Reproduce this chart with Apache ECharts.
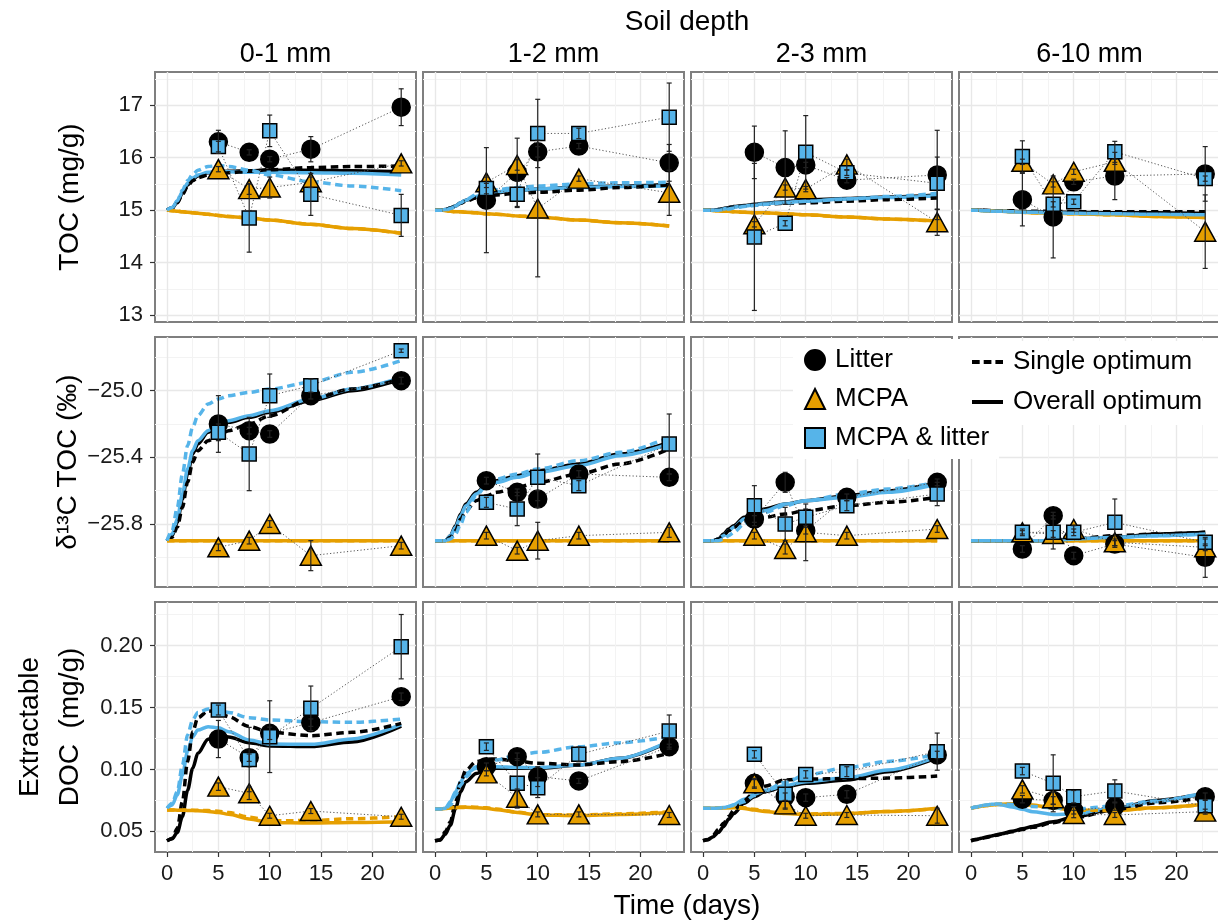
<!DOCTYPE html>
<html><head><meta charset="utf-8">
<script src="https://cdn.jsdelivr.net/npm/echarts@6/dist/echarts.min.js"></script>
<style>html,body{margin:0;padding:0;background:#fff}#c{width:1218px;height:923px}</style>
</head><body><div id="c"></div>
<script>
// ---------------- DATA ----------------
const depths = ['0-1 mm', '1-2 mm', '2-3 mm', '6-10 mm'];
const treatments = ['Litter', 'MCPA', 'MCPA & litter'];
const lineLegend = ['Single optimum', 'Overall optimum'];
const sampleDays = [5, 8, 10, 14, 22.8];
const modelDays = [0, 0.5, 1, 1.5, 2, 2.5, 3, 4, 5, 6, 8, 10, 14, 18, 22.8];
const xTicks = [0, 5, 10, 15, 20];
const xMinor = [2.5, 7.5, 12.5, 17.5, 22.5];
const tocTicks = [13, 14, 15, 16, 17];
const tocMinor = [13.5, 14.5, 15.5, 16.5, 17.5];
const d13cTicks = [-25.8, -25.4, -25.0];
const d13cMinor = [-26.0, -25.6, -25.2, -24.8];
const docTicks = [0.05, 0.10, 0.15, 0.20];
const docMinor = [0.075, 0.125, 0.175, 0.225];

// measured means and error half-widths: [depth][treatment][sample day]
const tocMean = [
  [[16.30, 16.10, 15.97, 16.16, 16.96], [15.78, 15.40, 15.43, 15.53, 15.89], [16.21, 14.85, 16.51, 15.30, 14.90]],
  [[15.19, 15.72, 16.11, 16.22, 15.90], [15.53, 15.86, 15.03, 15.60, 15.33], [15.41, 15.30, 16.46, 16.46, 16.77]],
  [[16.10, 15.81, 15.86, 15.57, 15.67], [14.73, 15.43, 15.40, 15.87, 14.77], [14.49, 14.75, 16.10, 15.71, 15.51]],
  [[15.20, 14.87, 15.54, 15.65, 15.69], [15.92, 15.49, 15.73, 15.92, 14.59], [16.02, 15.11, 15.16, 16.11, 15.60]]
];
const tocErr = [
  [[0.22, 0.05, 0.05, 0.24, 0.35], [0.05, 0.10, 0.20, 0.10, 0.05], [0.10, 0.65, 0.30, 0.40, 0.40]],
  [[1.00, 0.65, 0.10, 0.05, 0.35], [0.10, 0.10, 1.30, 0.05, 0.43], [0.10, 0.25, 0.65, 0.10, 0.65]],
  [[0.50, 0.70, 0.05, 0.05, 0.85], [0.05, 0.05, 0.05, 0.10, 0.25], [1.40, 0.05, 0.70, 0.05, 0.50]],
  [[0.50, 0.78, 0.05, 0.45, 0.52], [0.05, 0.05, 0.05, 0.05, 0.70], [0.30, 0.05, 0.05, 0.20, 0.05]]
];
const d13cMean = [
  [[-25.20, -25.24, -25.26, -25.03, -24.94], [-25.94, -25.90, -25.80, -25.99, -25.93], [-25.25, -25.38, -25.03, -24.97, -24.76]],
  [[-25.54, -25.61, -25.65, -25.50, -25.52], [-25.87, -25.96, -25.90, -25.87, -25.85], [-25.67, -25.71, -25.52, -25.57, -25.32]],
  [[-25.77, -25.55, -25.84, -25.64, -25.55], [-25.87, -25.95, -25.85, -25.87, -25.83], [-25.69, -25.80, -25.76, -25.69, -25.62]],
  [[-25.95, -25.75, -25.99, -25.92, -26.00], [-25.85, -25.86, -25.83, -25.91, -25.94], [-25.85, -25.85, -25.85, -25.79, -25.91]]
];
const d13cErr = [
  [[0.17, 0.02, 0.02, 0.02, 0.02], [0.02, 0.02, 0.02, 0.09, 0.02], [0.05, 0.22, 0.13, 0.04, 0.01]],
  [[0.02, 0.02, 0.05, 0.02, 0.02], [0.02, 0.02, 0.11, 0.02, 0.03], [0.03, 0.10, 0.14, 0.03, 0.18]],
  [[0.02, 0.06, 0.02, 0.02, 0.02], [0.02, 0.03, 0.17, 0.02, 0.02], [0.12, 0.10, 0.05, 0.03, 0.07]],
  [[0.02, 0.02, 0.02, 0.02, 0.12], [0.02, 0.02, 0.02, 0.02, 0.02], [0.01, 0.10, 0.02, 0.14, 0.02]]
];
const docMean = [
  [[0.1246, 0.1095, 0.1292, 0.1378, 0.1588], [0.0861, 0.0807, 0.0626, 0.0664, 0.0618], [0.1480, 0.1080, 0.1265, 0.1494, 0.1992]],
  [[0.1022, 0.1103, 0.0942, 0.0907, 0.1184], [0.0968, 0.0772, 0.0637, 0.0637, 0.0632], [0.1184, 0.0888, 0.0853, 0.1122, 0.1310]],
  [[0.0888, 0.0780, 0.0772, 0.0799, 0.1117], [0.0888, 0.0718, 0.0626, 0.0632, 0.0626], [0.1122, 0.0799, 0.0960, 0.0982, 0.1144]],
  [[0.0760, 0.0750, 0.0670, 0.0700, 0.0780], [0.0839, 0.0767, 0.0640, 0.0632, 0.0659], [0.0987, 0.0888, 0.0780, 0.0826, 0.0707]]
];
const docErr = [
  [[0.015, 0.003, 0.005, 0.003, 0.003], [0.003, 0.005, 0.002, 0.002, 0.002], [0.004, 0.026, 0.029, 0.018, 0.026]],
  [[0.003, 0.003, 0.008, 0.002, 0.002], [0.002, 0.007, 0.002, 0.002, 0.002], [0.003, 0.020, 0.008, 0.006, 0.013]],
  [[0.003, 0.003, 0.003, 0.003, 0.003], [0.004, 0.003, 0.002, 0.002, 0.006], [0.003, 0.012, 0.003, 0.004, 0.015]],
  [[0.003, 0.003, 0.003, 0.003, 0.003], [0.003, 0.005, 0.003, 0.002, 0.002], [0.003, 0.023, 0.005, 0.009, 0.005]]
];

// model curves over modelDays: [depth][treatment]
const tocSingle = [
  [[15.00, 15.04, 15.14, 15.30, 15.45, 15.56, 15.62, 15.67, 15.69, 15.71, 15.74, 15.77, 15.81, 15.83, 15.84],
   [15.00, 14.99, 14.98, 14.97, 14.96, 14.95, 14.94, 14.92, 14.90, 14.88, 14.85, 14.81, 14.73, 14.65, 14.56],
   [15.00, 15.05, 15.18, 15.38, 15.56, 15.68, 15.76, 15.83, 15.85, 15.83, 15.76, 15.67, 15.54, 15.46, 15.37]],
  [[15.00, 15.00, 15.01, 15.04, 15.08, 15.13, 15.17, 15.23, 15.27, 15.29, 15.32, 15.34, 15.38, 15.43, 15.48],
   [15.00, 15.00, 14.99, 14.98, 14.97, 14.97, 14.96, 14.95, 14.93, 14.92, 14.89, 14.87, 14.81, 14.76, 14.70],
   [15.00, 15.00, 15.00, 15.03, 15.07, 15.14, 15.20, 15.29, 15.35, 15.39, 15.43, 15.46, 15.50, 15.52, 15.53]],
  [[15.00, 15.00, 15.00, 15.01, 15.02, 15.04, 15.06, 15.08, 15.10, 15.11, 15.13, 15.14, 15.17, 15.20, 15.23],
   [15.00, 15.00, 14.99, 14.99, 14.98, 14.98, 14.97, 14.96, 14.95, 14.95, 14.93, 14.91, 14.87, 14.83, 14.79],
   [15.00, 15.00, 15.00, 15.00, 15.01, 15.02, 15.04, 15.07, 15.09, 15.11, 15.14, 15.17, 15.21, 15.26, 15.32]],
  [[15.00, 15.00, 15.00, 15.00, 14.99, 14.99, 14.99, 14.99, 14.98, 14.98, 14.98, 14.97, 14.97, 14.97, 14.97],
   [15.00, 15.00, 14.99, 14.99, 14.99, 14.98, 14.98, 14.97, 14.96, 14.95, 14.94, 14.93, 14.91, 14.88, 14.86],
   [15.00, 15.00, 14.99, 14.99, 14.99, 14.98, 14.98, 14.97, 14.96, 14.96, 14.95, 14.94, 14.93, 14.92, 14.91]]
];
const tocOverall = [
  [[15.00, 15.04, 15.15, 15.32, 15.48, 15.59, 15.65, 15.71, 15.73, 15.74, 15.75, 15.76, 15.76, 15.75, 15.73],
   [15.00, 14.99, 14.98, 14.97, 14.96, 14.95, 14.94, 14.92, 14.90, 14.88, 14.85, 14.81, 14.73, 14.65, 14.56],
   [15.00, 15.05, 15.17, 15.35, 15.51, 15.61, 15.67, 15.72, 15.73, 15.73, 15.72, 15.72, 15.71, 15.70, 15.67]],
  [[15.00, 15.00, 15.01, 15.04, 15.08, 15.14, 15.19, 15.25, 15.30, 15.33, 15.38, 15.40, 15.44, 15.46, 15.49],
   [15.00, 15.00, 14.99, 14.98, 14.97, 14.97, 14.96, 14.95, 14.93, 14.92, 14.89, 14.87, 14.81, 14.76, 14.70],
   [15.00, 15.00, 15.01, 15.04, 15.08, 15.14, 15.19, 15.26, 15.32, 15.35, 15.38, 15.40, 15.43, 15.45, 15.46]],
  [[15.00, 15.00, 15.00, 15.01, 15.03, 15.05, 15.07, 15.09, 15.11, 15.13, 15.16, 15.19, 15.22, 15.25, 15.29],
   [15.00, 15.00, 14.99, 14.99, 14.98, 14.98, 14.97, 14.96, 14.95, 14.95, 14.93, 14.91, 14.87, 14.83, 14.79],
   [15.00, 15.00, 15.00, 15.01, 15.02, 15.04, 15.06, 15.08, 15.10, 15.12, 15.15, 15.17, 15.21, 15.24, 15.27]],
  [[15.00, 15.00, 15.00, 14.99, 14.99, 14.99, 14.98, 14.98, 14.97, 14.97, 14.96, 14.96, 14.95, 14.95, 14.94],
   [15.00, 15.00, 14.99, 14.99, 14.99, 14.98, 14.98, 14.97, 14.96, 14.95, 14.94, 14.93, 14.91, 14.88, 14.86],
   [15.00, 15.00, 14.99, 14.99, 14.98, 14.98, 14.98, 14.97, 14.96, 14.96, 14.95, 14.94, 14.93, 14.92, 14.91]]
];
const d13cSingle = [
  [[-25.90, -25.88, -25.82, -25.70, -25.55, -25.43, -25.36, -25.30, -25.27, -25.24, -25.20, -25.15, -25.05, -24.99, -24.93],
   [-25.90, -25.90, -25.90, -25.90, -25.90, -25.90, -25.90, -25.90, -25.90, -25.90, -25.90, -25.90, -25.90, -25.90, -25.90],
   [-25.90, -25.84, -25.70, -25.50, -25.33, -25.22, -25.15, -25.08, -25.05, -25.03, -25.01, -24.99, -24.95, -24.89, -24.82]],
  [[-25.90, -25.90, -25.90, -25.88, -25.84, -25.77, -25.72, -25.66, -25.63, -25.61, -25.58, -25.55, -25.50, -25.44, -25.35],
   [-25.90, -25.90, -25.90, -25.90, -25.90, -25.90, -25.90, -25.90, -25.90, -25.90, -25.90, -25.90, -25.90, -25.90, -25.90],
   [-25.90, -25.90, -25.90, -25.89, -25.86, -25.80, -25.73, -25.63, -25.57, -25.53, -25.50, -25.47, -25.42, -25.37, -25.28]],
  [[-25.90, -25.90, -25.90, -25.89, -25.87, -25.84, -25.82, -25.78, -25.77, -25.76, -25.74, -25.72, -25.69, -25.67, -25.64],
   [-25.90, -25.90, -25.90, -25.90, -25.90, -25.90, -25.90, -25.90, -25.90, -25.90, -25.90, -25.90, -25.90, -25.90, -25.90],
   [-25.90, -25.90, -25.90, -25.90, -25.89, -25.87, -25.85, -25.80, -25.76, -25.73, -25.69, -25.66, -25.62, -25.59, -25.55]],
  [[-25.90, -25.90, -25.90, -25.90, -25.90, -25.90, -25.90, -25.90, -25.90, -25.90, -25.90, -25.89, -25.87, -25.86, -25.85],
   [-25.90, -25.90, -25.90, -25.90, -25.90, -25.90, -25.90, -25.90, -25.90, -25.90, -25.90, -25.90, -25.90, -25.90, -25.90],
   [-25.90, -25.90, -25.90, -25.90, -25.90, -25.90, -25.90, -25.90, -25.90, -25.90, -25.90, -25.89, -25.88, -25.87, -25.86]]
];
const d13cOverall = [
  [[-25.90, -25.87, -25.79, -25.65, -25.50, -25.38, -25.32, -25.25, -25.21, -25.19, -25.16, -25.13, -25.06, -25.00, -24.93],
   [-25.90, -25.90, -25.90, -25.90, -25.90, -25.90, -25.90, -25.90, -25.90, -25.90, -25.90, -25.90, -25.90, -25.90, -25.90],
   [-25.90, -25.86, -25.77, -25.62, -25.47, -25.36, -25.30, -25.24, -25.20, -25.18, -25.15, -25.12, -25.05, -24.99, -24.92]],
  [[-25.90, -25.90, -25.90, -25.87, -25.81, -25.74, -25.68, -25.61, -25.57, -25.54, -25.51, -25.48, -25.44, -25.38, -25.31],
   [-25.90, -25.90, -25.90, -25.90, -25.90, -25.90, -25.90, -25.90, -25.90, -25.90, -25.90, -25.90, -25.90, -25.90, -25.90],
   [-25.90, -25.90, -25.90, -25.87, -25.82, -25.75, -25.69, -25.62, -25.57, -25.55, -25.52, -25.49, -25.45, -25.39, -25.32]],
  [[-25.90, -25.90, -25.90, -25.89, -25.86, -25.83, -25.81, -25.76, -25.73, -25.71, -25.68, -25.66, -25.63, -25.60, -25.55],
   [-25.90, -25.90, -25.90, -25.90, -25.90, -25.90, -25.90, -25.90, -25.90, -25.90, -25.90, -25.90, -25.90, -25.90, -25.90],
   [-25.90, -25.90, -25.90, -25.89, -25.87, -25.84, -25.82, -25.77, -25.74, -25.72, -25.68, -25.66, -25.64, -25.61, -25.56]],
  [[-25.90, -25.90, -25.90, -25.90, -25.90, -25.90, -25.90, -25.90, -25.90, -25.90, -25.90, -25.89, -25.88, -25.86, -25.85],
   [-25.90, -25.90, -25.90, -25.90, -25.90, -25.90, -25.90, -25.90, -25.90, -25.90, -25.90, -25.90, -25.90, -25.90, -25.90],
   [-25.90, -25.90, -25.90, -25.90, -25.90, -25.90, -25.90, -25.90, -25.90, -25.90, -25.90, -25.89, -25.88, -25.87, -25.86]]
];
const docSingle = [
  [[0.0424, 0.0443, 0.0524, 0.0740, 0.1063, 0.1305, 0.1418, 0.1472, 0.1467, 0.1426, 0.1346, 0.1300, 0.1273, 0.1300, 0.1372],
   [0.0672, 0.0672, 0.0672, 0.0672, 0.0671, 0.0671, 0.0670, 0.0668, 0.0663, 0.0652, 0.0615, 0.0585, 0.0587, 0.0602, 0.0618],
   [0.0686, 0.0726, 0.0820, 0.1036, 0.1278, 0.1400, 0.1461, 0.1488, 0.1480, 0.1461, 0.1418, 0.1400, 0.1386, 0.1381, 0.1407]],
  [[0.0424, 0.0430, 0.0497, 0.0578, 0.0740, 0.0901, 0.0995, 0.1063, 0.1082, 0.1085, 0.1068, 0.1050, 0.1036, 0.1063, 0.1130],
   [0.0680, 0.0680, 0.0685, 0.0690, 0.0694, 0.0696, 0.0697, 0.0695, 0.0690, 0.0680, 0.0655, 0.0635, 0.0632, 0.0641, 0.0658],
   [0.0681, 0.0681, 0.0686, 0.0713, 0.0793, 0.0874, 0.0941, 0.1022, 0.1050, 0.1076, 0.1117, 0.1138, 0.1184, 0.1216, 0.1265]],
  [[0.0424, 0.0432, 0.0470, 0.0515, 0.0565, 0.0620, 0.0670, 0.0750, 0.0815, 0.0865, 0.0915, 0.0923, 0.0925, 0.0930, 0.0947],
   [0.0686, 0.0686, 0.0687, 0.0689, 0.0691, 0.0693, 0.0694, 0.0690, 0.0678, 0.0665, 0.0648, 0.0640, 0.0645, 0.0660, 0.0683],
   [0.0686, 0.0686, 0.0686, 0.0688, 0.0692, 0.0700, 0.0710, 0.0740, 0.0790, 0.0830, 0.0895, 0.0955, 0.1015, 0.1065, 0.1122]],
  [[0.0424, 0.0433, 0.0442, 0.0451, 0.0460, 0.0469, 0.0478, 0.0496, 0.0514, 0.0533, 0.0570, 0.0608, 0.0675, 0.0730, 0.0775],
   [0.0686, 0.0695, 0.0703, 0.0709, 0.0713, 0.0717, 0.0719, 0.0721, 0.0718, 0.0710, 0.0690, 0.0672, 0.0668, 0.0690, 0.0718],
   [0.0686, 0.0697, 0.0707, 0.0713, 0.0718, 0.0720, 0.0720, 0.0716, 0.0705, 0.0700, 0.0690, 0.0680, 0.0705, 0.0745, 0.0815]]
];
const docOverall = [
  [[0.0424, 0.0440, 0.0490, 0.0620, 0.0830, 0.1010, 0.1130, 0.1245, 0.1270, 0.1262, 0.1215, 0.1190, 0.1185, 0.1222, 0.1350],
   [0.0672, 0.0672, 0.0671, 0.0670, 0.0669, 0.0668, 0.0666, 0.0661, 0.0653, 0.0638, 0.0600, 0.0572, 0.0568, 0.0572, 0.0578],
   [0.0686, 0.0713, 0.0793, 0.0955, 0.1144, 0.1265, 0.1319, 0.1346, 0.1337, 0.1305, 0.1238, 0.1205, 0.1203, 0.1246, 0.1364]],
  [[0.0424, 0.0430, 0.0476, 0.0551, 0.0686, 0.0820, 0.0901, 0.0968, 0.0995, 0.1009, 0.1009, 0.1009, 0.1036, 0.1090, 0.1224],
   [0.0680, 0.0680, 0.0684, 0.0688, 0.0691, 0.0693, 0.0694, 0.0691, 0.0686, 0.0675, 0.0653, 0.0632, 0.0626, 0.0637, 0.0653],
   [0.0681, 0.0681, 0.0686, 0.0740, 0.0820, 0.0901, 0.0968, 0.1009, 0.1022, 0.1022, 0.1017, 0.1014, 0.1036, 0.1090, 0.1230]],
  [[0.0424, 0.0435, 0.0457, 0.0492, 0.0538, 0.0599, 0.0645, 0.0726, 0.0780, 0.0820, 0.0861, 0.0888, 0.0915, 0.0982, 0.1095],
   [0.0686, 0.0686, 0.0687, 0.0688, 0.0689, 0.0690, 0.0690, 0.0685, 0.0672, 0.0660, 0.0645, 0.0637, 0.0643, 0.0660, 0.0686],
   [0.0686, 0.0686, 0.0686, 0.0688, 0.0692, 0.0700, 0.0715, 0.0760, 0.0800, 0.0830, 0.0870, 0.0901, 0.0933, 0.0995, 0.1103]],
  [[0.0424, 0.0434, 0.0444, 0.0454, 0.0463, 0.0472, 0.0481, 0.0500, 0.0520, 0.0540, 0.0578, 0.0615, 0.0685, 0.0750, 0.0807],
   [0.0686, 0.0695, 0.0703, 0.0709, 0.0713, 0.0717, 0.0719, 0.0721, 0.0718, 0.0710, 0.0690, 0.0672, 0.0668, 0.0690, 0.0718],
   [0.0686, 0.0697, 0.0707, 0.0713, 0.0718, 0.0718, 0.0713, 0.0696, 0.0678, 0.0659, 0.0637, 0.0640, 0.0686, 0.0740, 0.0815]]
];

// ---------------- LAYOUT / STYLE ----------------
const FF = "'Liberation Sans', Arial, Helvetica, sans-serif";
const colLeft = [155, 423, 691, 959];
const rowTop = [72, 337, 602];
const PW = 261, PH = 250;
const X_MIN = -1.17, X_MAX = 24.24;
const colors = ['#000000', '#E69F00', '#56B4E9'];
const symbols = ['circle', 'triangle', 'rect'];
const symSizes = [18, [21, 19], 14];
const DASH = [7.5, 4.5];

const rows = [
  { mean: tocMean, err: tocErr, single: tocSingle, overall: tocOverall, min: 12.87, max: 17.63,
    ticks: tocTicks, minor: tocMinor, fmt: v => v.toFixed(0) },
  { mean: d13cMean, err: d13cErr, single: d13cSingle, overall: d13cOverall, min: -26.178, max: -24.678,
    ticks: d13cTicks, minor: d13cMinor, fmt: v => v.toFixed(1).replace('-', '\u2212') },
  { mean: docMean, err: docErr, single: docSingle, overall: docOverall, min: 0.0333, max: 0.2353,
    ticks: docTicks, minor: docMinor, fmt: v => v.toFixed(2) }
];

const grid = [], xMain = [], yMain = [], xMin2 = [], yMin2 = [], series = [];
const tickStyle = { color: '#333333', width: 1.2 };
const majorGrid = { color: '#e8e8e8', width: 1.4 };
const minorGrid = { color: '#f3f3f3', width: 1 };

for (let r = 0; r < 3; r++) {
  for (let c = 0; c < 4; c++) {
    const g = r * 4 + c;
    const R = rows[r];
    grid.push({ left: colLeft[c], top: rowTop[r], width: PW, height: PH, show: true,
      backgroundColor: '#ffffff', borderColor: '#7f7f7f', borderWidth: 2, containLabel: false, outerBoundsMode: 'none' });
    xMain.push({ type: 'value', gridIndex: g, min: X_MIN, max: X_MAX, position: 'bottom',
      axisLine: { show: false, onZero: false },
      axisTick: { show: r === 2, customValues: xTicks, length: 5, lineStyle: tickStyle },
      axisLabel: { show: r === 2, customValues: xTicks, margin: 11, fontSize: 22, color: '#1a1a1a', fontFamily: FF },
      splitLine: { show: true, lineStyle: majorGrid } });
    xMin2.push({ type: 'value', gridIndex: g, min: X_MIN, max: X_MAX, position: 'top',
      axisLine: { show: false, onZero: false },
      axisTick: { show: false, customValues: xMinor },
      axisLabel: { show: false, customValues: xMinor },
      splitLine: { show: true, lineStyle: minorGrid } });
    yMain.push({ type: 'value', gridIndex: g, min: R.min, max: R.max, position: 'left',
      axisLine: { show: false, onZero: false },
      axisTick: { show: c === 0, customValues: R.ticks, length: 5, lineStyle: tickStyle },
      axisLabel: { show: c === 0, customValues: R.ticks, formatter: R.fmt, margin: 12, fontSize: 22, color: '#1a1a1a', fontFamily: FF },
      splitLine: { show: true, lineStyle: majorGrid } });
    yMin2.push({ type: 'value', gridIndex: g, min: R.min, max: R.max, position: 'right',
      axisLine: { show: false, onZero: false },
      axisTick: { show: false, customValues: R.minor },
      axisLabel: { show: false, customValues: R.minor },
      splitLine: { show: true, lineStyle: minorGrid } });

    const base = { xAxisIndex: g, yAxisIndex: g, silent: true, animation: false };
    // model curves: overall (solid) then single (dashed)
    [['overall', R.overall, 'solid'], ['single', R.single, DASH]].forEach(([nm, arr, ty]) => {
      for (let t = 0; t < 3; t++) {
        series.push(Object.assign({}, base, {
          type: 'line', name: nm + '-' + treatments[t], z: 2,
          data: modelDays.map((d, i) => [d, arr[c][t][i]]),
          symbol: 'none', showSymbol: false, smooth: 0.3, smoothMonotone: 'x',
          lineStyle: { color: colors[t], width: 3.5, type: ty, cap: 'butt' }
        }));
      }
    });
    // dotted connectors
    for (let t = 0; t < 3; t++) {
      series.push(Object.assign({}, base, {
        type: 'line', name: 'conn', z: 3,
        data: sampleDays.map((d, i) => [d, R.mean[c][t][i]]),
        symbol: 'none', showSymbol: false,
        lineStyle: { color: '#555555', width: 1, type: [1.2, 2.2] }
      }));
    }
    // points
    for (let t = 0; t < 3; t++) {
      series.push(Object.assign({}, base, {
        type: 'scatter', name: treatments[t], z: 4,
        data: sampleDays.map((d, i) => [d, R.mean[c][t][i]]),
        symbol: symbols[t], symbolSize: symSizes[t],
        itemStyle: { color: colors[t], borderColor: '#000000', borderWidth: 1.5, opacity: 1 }
      }));
    }
    // error bars
    for (let t = 0; t < 3; t++) {
      series.push(Object.assign({}, base, {
        type: 'custom', name: 'err', z: 5,
        data: sampleDays.map((d, i) => [d, R.mean[c][t][i], R.err[c][t][i]]),
        encode: { x: 0, y: 1 },
        renderItem: (params, api) => {
          const x = api.value(0), y = api.value(1), e = api.value(2);
          const p1 = api.coord([x, y + e]), p2 = api.coord([x, y - e]);
          const w = 2.5, st = { stroke: '#222222', lineWidth: 1.2 };
          return { type: 'group', children: [
            { type: 'line', shape: { x1: p1[0], y1: p1[1], x2: p2[0], y2: p2[1] }, style: st },
            { type: 'line', shape: { x1: p1[0] - w, y1: p1[1], x2: p1[0] + w, y2: p1[1] }, style: st },
            { type: 'line', shape: { x1: p2[0] - w, y1: p2[1], x2: p2[0] + w, y2: p2[1] }, style: st }
          ] };
        }
      }));
    }
  }
}

const txt = (text, x, y, size, rot, align, z) => ({
  type: 'text', x: x, y: y, rotation: rot || 0, z: z || 20,
  style: { text: text, fontSize: size, fontFamily: FF, fill: '#000000', align: align || 'center', verticalAlign: 'middle',
           textAlign: align || 'center', textVerticalAlign: 'middle', lineHeight: 40 }
});
const graphic = [txt('Soil depth', 687, 22, 28)];
depths.forEach((d, c) => graphic.push(txt(d, colLeft[c] + PW / 2, 55, 27)));
graphic.push(txt('TOC (mg/g)', 70, 197, 28, Math.PI / 2));
graphic.push(txt('\u03b4\u00b9\u00b3C TOC (\u2030)', 68, 462, 28, Math.PI / 2));
graphic.push(txt('Extractable\nDOC  (mg/g)', 50, 727, 28, Math.PI / 2));
graphic.push(txt('Time (days)', 687, 906, 28));
// line-type key (Single / Overall optimum), drawn above the symbol legend
graphic.push({ type: 'rect', z: 30, shape: { x: 958, y: 341, width: 262, height: 84 }, style: { fill: '#ffffff' } });
graphic.push({ type: 'line', z: 31, shape: { x1: 972, y1: 362, x2: 1003, y2: 362 },
  style: { stroke: '#000000', lineWidth: 4, lineDash: [7.7, 4] } });
graphic.push({ type: 'line', z: 31, shape: { x1: 972, y1: 402, x2: 1003, y2: 402 },
  style: { stroke: '#000000', lineWidth: 4 } });
graphic.push(txt(lineLegend[0], 1013, 362, 26, 0, 'left', 31));
graphic.push(txt(lineLegend[1], 1013, 402, 26, 0, 'left', 31));

const option = {
  animation: false,
  backgroundColor: '#ffffff',
  grid: grid,
  xAxis: xMain.concat(xMin2),
  yAxis: yMain.concat(yMin2),
  series: series,
  graphic: graphic,
  legend: [
    { data: treatments, orient: 'vertical', left: 793, top: 339, padding: [8, 10, 8, 11], itemGap: 13,
      itemWidth: 20, itemHeight: 20, backgroundColor: '#ffffff', selectedMode: false, z: 12,
      textStyle: { fontSize: 26, color: '#000000', fontFamily: FF, padding: [0, 0, 0, 5] } }
  ]
};
const chart = echarts.init(document.getElementById('c'), null, { renderer: 'canvas' });
chart.setOption(option);
</script></body></html>
